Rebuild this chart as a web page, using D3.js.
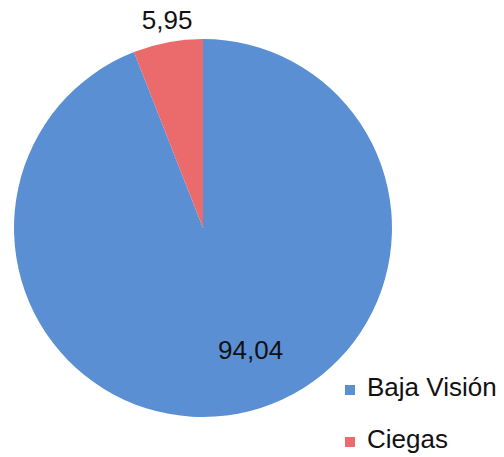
<!DOCTYPE html>
<html>
<head>
<meta charset="utf-8">
<script src="https://cdn.jsdelivr.net/npm/d3@7"></script>
<style>
  body { margin: 0; background: #fff; }
  svg { display: block; font-family: 'Liberation Sans', Arial, sans-serif; }
</style>
</head>
<body>
<div class="chart-pie"></div>
<script>
const categories = ['Baja Visión', 'Ciegas']
const values = [94.04, 5.95]
const labels = ['94,04', '5,95']
const colors = ['#5b8fd4', '#eb6a6c']

const w = 504
const h = 457
const cx = 203
const cy = 228
const radius = 189

const svg = d3.select('.chart-pie')
  .append('svg')
  .attr('width', w)
  .attr('height', h)

const color = d3.scaleOrdinal().domain(categories).range(colors)

const pie = d3.pie().sort(null).value(d => d.value)
const data = categories.map((c, i) => ({ name: c, value: values[i], label: labels[i] }))
const arcs = pie(data)

const arc = d3.arc().innerRadius(0).outerRadius(radius)

const g = svg.append('g').attr('transform', `translate(${cx},${cy})`)

g.selectAll('path')
  .data(arcs)
  .enter()
  .append('path')
  .attr('d', arc)
  .attr('fill', d => color(d.data.name))

// label positions (one inside, one outside the pie)
const labelArcIn = d3.arc().innerRadius(radius * 0.7).outerRadius(radius * 0.7)
const labelArcOut = d3.arc().innerRadius(radius * 1.08).outerRadius(radius * 1.08)

g.selectAll('text.value')
  .data(arcs)
  .enter()
  .append('text')
  .attr('class', 'value')
  .attr('text-anchor', 'middle')
  .attr('font-size', 26)
  .attr('fill', '#111')
  .attr('transform', d => {
    if (d.data.name === 'Ciegas') {
      const [x, y] = labelArcOut.centroid(d)
      return `translate(${x + 2},${y + 2})`
    }
    const [x, y] = labelArcIn.centroid(d)
    return `translate(${x + 23},${y + 1})`
  })
  .text(d => d.data.label)

const legend = svg.selectAll('.legend')
  .data(categories)
  .enter()
  .append('g')
  .attr('class', 'legend')
  .attr('transform', (d, i) => `translate(345,${385 + i * 52})`)

legend.append('rect')
  .attr('width', 10)
  .attr('height', 10)
  .attr('fill', d => color(d))

legend.append('text')
  .attr('x', 22)
  .attr('y', 11)
  .attr('font-size', 26)
  .attr('fill', '#111')
  .text(d => d)
</script>
</body>
</html>
